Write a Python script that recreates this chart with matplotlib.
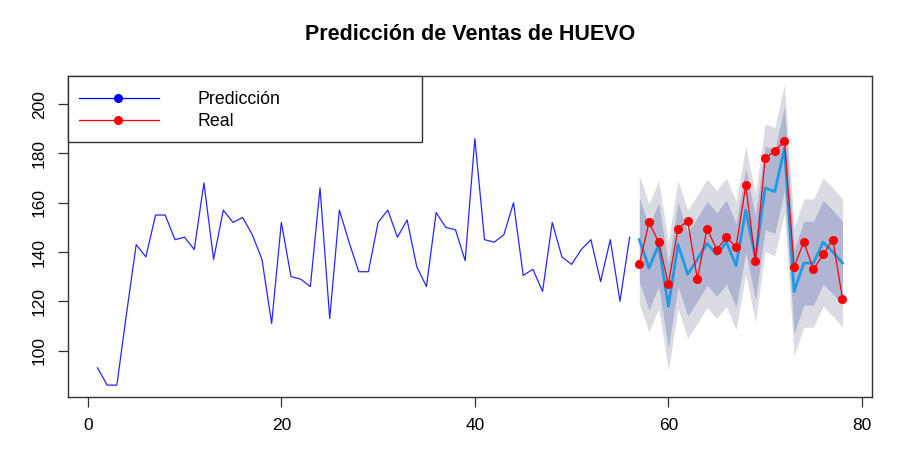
import matplotlib.pyplot as plt
from matplotlib.lines import Line2D
from matplotlib.patches import Rectangle

# historical sales (t = 1..56)
hist_t = list(range(1, 57))
hist_val = [93, 86, 86, 115, 143, 138, 155, 155, 145, 146, 141, 168, 137, 157, 152, 154,
            147, 137, 111, 152, 130, 129, 126, 166, 113, 157, 144, 132, 132, 152, 157, 146,
            153, 134, 126, 156, 150, 149, 136.5, 186, 145, 144, 147, 160, 130.5, 133, 124,
            152, 138, 135, 141, 145, 128, 145, 120, 146]

# forecast horizon (t = 57..78)
fc_t = list(range(57, 79))
fc_mean = [145, 133.5, 143, 118, 143, 131, 137, 143.5, 139, 144, 134.5, 157, 137.5, 166,
           164.5, 182, 124, 135.5, 135.5, 144, 140, 135.5]
lo80 = [128, 116.5, 126, 101, 126, 114, 120, 126.5, 122, 127, 117.5, 140, 120.5, 149,
        147.5, 165, 107, 118.5, 118.5, 127, 123, 118.5]
hi80 = [162, 150.5, 160, 135, 160, 148, 154, 160.5, 156, 161, 151.5, 174, 154.5, 183,
        181.5, 199, 141, 152.5, 152.5, 161, 157, 152.5]
lo95 = [119, 107.5, 117, 92, 117, 105, 111, 117.5, 113, 118, 108.5, 131, 111.5, 140,
        138.5, 156, 98, 109.5, 109.5, 118, 114, 109.5]
hi95 = [171, 159.5, 169, 144, 169, 157, 163, 169.5, 165, 170, 160.5, 183, 163.5, 192,
        190.5, 208, 150, 161.5, 161.5, 170, 166, 161.5]

# actual values over the forecast horizon
real_val = [135, 152, 144, 127, 149.5, 152.5, 129, 149.5, 141, 146, 142, 167, 136.5, 178,
            181, 185, 134, 144, 133, 139, 145, 121]

legend_labels = ['Predicción', 'Real']
legend_colors = ['blue', 'red']

plt.rcParams['font.family'] = ['Liberation Sans', 'DejaVu Sans']

W, H = 900, 462


def px(x, y):
    # pixel position (from top-left) -> figure fraction
    return x / W, 1 - y / H


fig = plt.figure(figsize=(W / 100, H / 100), dpi=100)
ax = fig.add_axes([67.7 / W, 1 - 396.7 / H, (872.3 - 67.7) / W, (396.7 - 76) / H])

ax.fill_between(fc_t, lo95, hi95, color='#DBDBE3', lw=0)
ax.fill_between(fc_t, lo80, hi80, color='#B0B6D2', lw=0)
ax.plot(hist_t, hist_val, color='#2626FF', lw=0.9)
ax.plot(fc_t, fc_mean, color='#1E9BE6', lw=2)
ax.plot(fc_t, real_val, color='red', lw=0.9, marker='o', markersize=5.5)

ax.set_xlim(-2.08, 81.08)
ax.set_ylim(81.3, 211.4)
ax.set_xticks([0, 20, 40, 60, 80])
ax.set_yticks([100, 120, 140, 160, 180, 200])
ax.tick_params(labelsize=12.5, length=7, width=0.9, color='#333333', pad=8)
for lbl in ax.get_yticklabels():
    lbl.set_rotation(90)
    lbl.set_va('center')
for s in ax.spines.values():
    s.set_color('#333333')
    s.set_linewidth(1)

fig.text(*px(470, 34), 'Predicción de Ventas de HUEVO', ha='center', va='center',
         fontsize=15.5, fontweight='bold')

# legend box drawn by hand (R style, anchored at top-left corner of the plot)
x0, y0 = px(67.7, 141.7)
x1, y1 = px(422.3, 76)
fig.add_artist(Rectangle((x0, y0), x1 - x0, y1 - y0, transform=fig.transFigure,
                         facecolor='white', edgecolor='#333333', lw=1, zorder=5))
for i, (lab, col) in enumerate(zip(legend_labels, legend_colors)):
    yy = 98.3 + i * 22
    lx0, ly = px(79, yy)
    lx1, _ = px(159, yy)
    mx, _ = px(117.7, yy)
    fig.add_artist(Line2D([lx0, lx1], [ly, ly], transform=fig.transFigure, color=col,
                          lw=0.9, zorder=6))
    fig.add_artist(Line2D([mx], [ly], transform=fig.transFigure, color=col, marker='o',
                          markersize=5.5, zorder=6))
    fig.text(*px(197.7, yy + 1), lab, ha='left', va='center', fontsize=12.8, zorder=6)

fig.savefig('out.png', dpi=100)
